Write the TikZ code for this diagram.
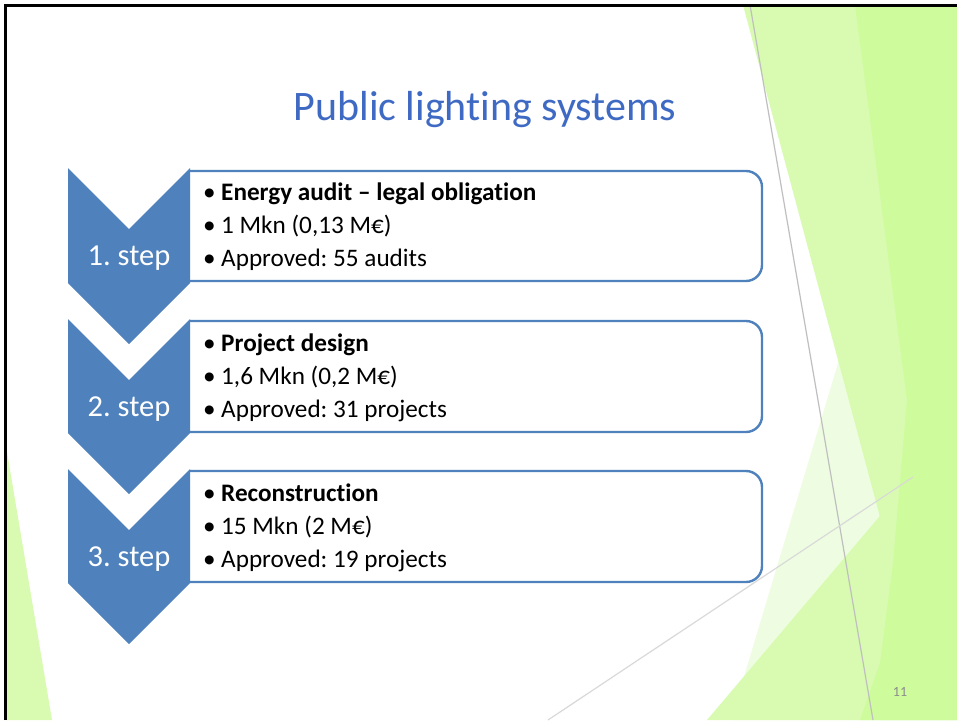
\documentclass[tikz,border=0pt]{standalone}
\usepackage{fontspec}
\setmainfont{Carlito}[Ligatures=CommonOff]
\frenchspacing
\usetikzlibrary{positioning}
\definecolor{stepblue}{RGB}{79,129,189}
\definecolor{titleblue}{RGB}{63,106,196}
\definecolor{leafdark}{RGB}{206,251,155}
\definecolor{leafmid}{RGB}{216,251,177}
\definecolor{leafpale}{RGB}{238,253,225}
\newcommand{\itemdot}{\makebox[18pt][l]{•}}
\tikzset{
	chevron/.style={fill=stepblue}, % Flecha azul de cada paso
	textbox/.style={draw=stepblue, line width=2.4pt, rounded corners=16pt}, % Caja del texto
	steplabel/.style={anchor=base, text=white, inner sep=0pt, font=\fontsize{30.5}{30.5}\selectfont},
	item/.style={anchor=base west, inner sep=0pt, font=\fontsize{25.2}{25.2}\selectfont}, % Lineas de la lista
	seam/.style={draw=black!25, line width=1.2pt} % Lineas grises del fondo
}

\begin{document}
\begin{tikzpicture}[x=1pt, y=-1pt]
	\useasboundingbox (0,0) rectangle (957,720);
	\fill[white] (0,0) rectangle (957,720);
	% fondo verde
	\fill[leafpale] (851,320) -- (957,320) -- (957,720) -- (731,720) -- cycle;
	\fill[leafmid] (743,5) -- (957,5) -- (957,720) -- (880,720) -- (880,517) -- cycle;
	\fill[leafmid] (707,720) -- (957,425) -- (957,720) -- cycle;
	\fill[leafdark] (855,5) -- (957,5) -- (957,720) -- (860,720) -- (880,663) -- (893,563) -- (907,400) -- cycle;
	\fill[leafmid] (5,440) -- (52,720) -- (5,720) -- cycle;
	\draw[seam] (750,5) -- (873,720);
	\draw[seam, draw=black!15] (548,720) -- (913,477);
	\draw[line width=3pt] (5.5,720) -- (5.5,5) -- (957,5);

	\node[anchor=base, text=titleblue, font=\fontsize{42}{42}\selectfont] (title) at (485,120) {Public lighting systems};

	% paso 1
	\draw[textbox] (190,171) -- (762,171) -- (762,281) -- (190,281);
	\fill[chevron] (68,168) -- (129,229) -- (190,168) -- (190,283) -- (129,344) -- (68,283) -- cycle;
	\node[steplabel] (s1) at (129,265) {1. step};
	\node[item] (a1) at (203,200) {\itemdot\textbf{Energy audit – legal obligation}};
	\node[item] (a2) at ([yshift=-33pt]a1.base west) {\itemdot 1 Mkn (0,13 M€)};
	\node[item] (a3) at ([yshift=-33pt]a2.base west) {\itemdot Approved: 55 audits};

	% paso 2
	\draw[textbox] (190,321) -- (762,321) -- (762,432) -- (190,432);
	\fill[chevron] (68,319) -- (129,380) -- (190,319) -- (190,433) -- (129,494) -- (68,433) -- cycle;
	\node[steplabel] (s2) at (129,416) {2. step};
	\node[item] (b1) at (203,351) {\itemdot\textbf{Project design}};
	\node[item] (b2) at ([yshift=-33pt]b1.base west) {\itemdot 1,6 Mkn (0,2 M€)};
	\node[item] (b3) at ([yshift=-33pt]b2.base west) {\itemdot Approved: 31 projects};

	% paso 3
	\draw[textbox] (190,471) -- (762,471) -- (762,582) -- (190,582);
	\fill[chevron] (68,469) -- (129,530) -- (190,469) -- (190,583) -- (129,644) -- (68,583) -- cycle;
	\node[steplabel] (s3) at (129,566) {3. step};
	\node[item] (c1) at (203,501) {\itemdot\textbf{Reconstruction}};
	\node[item] (c2) at ([yshift=-33pt]c1.base west) {\itemdot 15 Mkn (2 M€)};
	\node[item] (c3) at ([yshift=-33pt]c2.base west) {\itemdot Approved: 19 projects};

	\node[text=black!45, font=\fontsize{14}{14}\selectfont] (page) at (900,692) {11};
\end{tikzpicture}
\end{document}
